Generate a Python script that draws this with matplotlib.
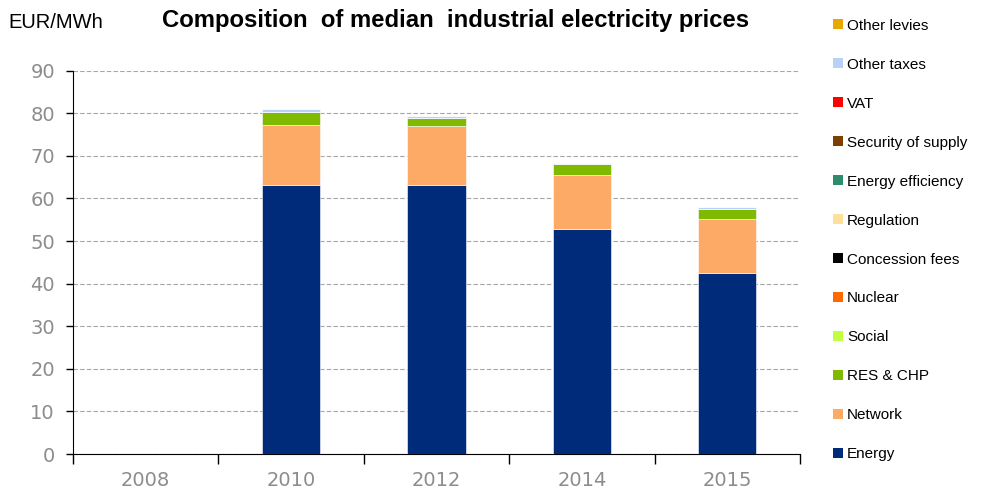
import numpy as np
import matplotlib
matplotlib.use("Agg")
import matplotlib.pyplot as plt
from matplotlib.patches import Patch

years = ["2008", "2010", "2012", "2014", "2015"]

# components, bottom to top of the stack
components = ["Energy", "Network", "RES & CHP", "Social", "Nuclear",
              "Concession fees", "Regulation", "Energy efficiency",
              "Security of supply", "VAT", "Other taxes", "Other levies"]
colors = ["#002A7A", "#FDAA67", "#7FBA00", "#C0FF40", "#FF6A00",
          "#000000", "#FFE09A", "#2E8B6E", "#7F3F00", "#FF0000",
          "#B9D1F9", "#E8A800"]

energy = [0, 63.2, 63.2, 52.8, 42.5]
network = [0, 14.1, 13.7, 12.8, 12.7]
res_chp = [0, 3.1, 1.9, 2.4, 2.3]
social = [0, 0, 0, 0, 0]
nuclear = [0, 0, 0, 0, 0]
concession = [0, 0, 0, 0, 0]
regulation = [0, 0, 0, 0, 0]
efficiency = [0, 0, 0, 0, 0]
security = [0, 0, 0, 0, 0]
vat = [0, 0, 0, 0, 0]
other_taxes = [0, 0.6, 0.5, 0.4, 0.5]
other_levies = [0, 0, 0, 0, 0]

series = [energy, network, res_chp, social, nuclear, concession, regulation,
          efficiency, security, vat, other_taxes, other_levies]

plt.rcParams['font.family'] = ['Liberation Sans', 'DejaVu Sans']

fig = plt.figure(figsize=(9.84, 4.95), dpi=100)
ax = fig.add_axes([73 / 984, 1 - 454 / 495, 727 / 984, (454 - 70.7) / 495])

x = np.arange(len(years))
bottom = np.zeros(len(years))
for vals, c in zip(series, colors):
    vals = np.array(vals, dtype=float)
    ax.bar(x, vals, width=0.4, bottom=bottom, color=c, edgecolor="white",
           linewidth=0.4, zorder=3)
    bottom += vals

ax.set_xlim(-0.5, len(years) - 0.5)
ax.set_ylim(0, 90)
ax.set_yticks(np.arange(0, 91, 10))
ax.set_xticks(x)
ax.set_xticklabels(years)
ax.set_xticks(np.arange(-0.5, len(years)), minor=True)
ax.tick_params(axis='x', which='major', length=0, pad=12)
ax.tick_params(axis='x', which='minor', length=7, width=1, direction='out')
ax.tick_params(axis='y', length=5, width=1, direction='out', pad=8)
for lab in ax.get_xticklabels() + ax.get_yticklabels():
    lab.set_fontfamily('DejaVu Sans')
    lab.set_fontsize(14)
    lab.set_color('#8C8C8C')

ax.grid(axis='y', linestyle=(0, (4, 2)), color='#A6A6A6', linewidth=0.8, zorder=0)
for s in ['top', 'right']:
    ax.spines[s].set_visible(False)
ax.spines['left'].set_color('black')
ax.spines['bottom'].set_color('black')

fig.text(8 / 984, 1 - 22 / 495, "EUR/MWh", fontsize=14.5, va='center', ha='left')
fig.text(456 / 984, 1 - 20 / 495, "Composition  of median  industrial electricity prices",
         fontsize=17.2, fontweight='bold', ha='center', va='center')

handles = [Patch(facecolor=c, label=n) for n, c in zip(components, colors)]
fig.legend(handles[::-1], components[::-1], loc='upper left',
           bbox_to_anchor=(825 / 984, 1 - 11 / 495), frameon=False,
           fontsize=11, handlelength=0.65, handleheight=0.65,
           handletextpad=0.3, labelspacing=1.635, borderpad=0)

fig.savefig("out.png", dpi=100)
